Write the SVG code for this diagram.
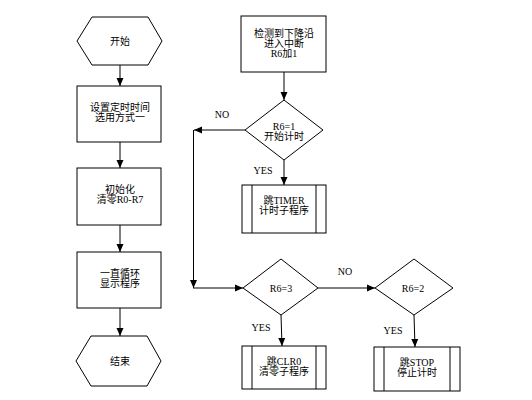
<svg xmlns="http://www.w3.org/2000/svg" width="532" height="400" viewBox="0 0 532 400">
<style>
.s{fill:#fff;stroke:#000;stroke-width:1}
.l{fill:none;stroke:#000;stroke-width:1}
text{font-family:"Liberation Serif","Noto Sans CJK SC",serif;font-size:10px;fill:#000;text-anchor:middle}
</style>
<defs>
<marker id="a" viewBox="0 0 8 8" refX="8" refY="4" markerWidth="8" markerHeight="8" markerUnits="userSpaceOnUse" orient="auto">
<path d="M0,0.5 L8,4 L0,7.5 Z" fill="#000"/>
</marker>
</defs>
<rect width="532" height="400" fill="#fff"/>
<g id="connectors">
<line class="l" x1="120" y1="65" x2="120" y2="86" marker-end="url(#a)"/>
<line class="l" x1="120" y1="142" x2="120" y2="168" marker-end="url(#a)"/>
<line class="l" x1="120" y1="225" x2="120" y2="252" marker-end="url(#a)"/>
<line class="l" x1="120" y1="308" x2="120" y2="336" marker-end="url(#a)"/>
<line class="l" x1="284" y1="72" x2="284" y2="100" marker-end="url(#a)"/>
<line class="l" x1="245" y1="130" x2="194" y2="130" marker-end="url(#a)"/>
<line class="l" x1="193.5" y1="130" x2="193.5" y2="288" marker-end="url(#a)"/>
<line class="l" x1="193" y1="288" x2="243" y2="288" marker-end="url(#a)"/>
<line class="l" x1="284" y1="160" x2="284" y2="185" marker-end="url(#a)"/>
<line class="l" x1="281" y1="315" x2="282" y2="346" marker-end="url(#a)"/>
<line class="l" x1="318" y1="288" x2="375" y2="288" marker-end="url(#a)"/>
<line class="l" x1="414" y1="315" x2="415" y2="347" marker-end="url(#a)"/>
<text x="222" y="118">NO</text>
<text x="263" y="174">YES</text>
<text x="345" y="275">NO</text>
<text x="261" y="331">YES</text>
<text x="393" y="334">YES</text>
</g>
<g id="start">
<polygon class="s" points="77,41 92,17 148,17 162,41 148,65 92,65"/>
<text x="120" y="45">开始</text>
</g>
<g id="setTimer">
<rect class="s" x="77" y="86" width="84" height="56"/>
<text x="120" y="111">设置定时时间</text>
<text x="120" y="121">选用方式一</text>
</g>
<g id="init">
<rect class="s" x="77" y="168" width="84" height="57"/>
<text x="120" y="193">初始化</text>
<text x="120" y="203">清零R0-R7</text>
</g>
<g id="loop">
<rect class="s" x="77" y="252" width="84" height="56"/>
<text x="120" y="277">一直循环</text>
<text x="120" y="287">显示程序</text>
</g>
<g id="end">
<polygon class="s" points="76,361 91,336 147,336 161,361 147,386 91,386"/>
<text x="120" y="365">结束</text>
</g>
<g id="interrupt">
<rect class="s" x="241" y="16" width="85" height="56"/>
<text x="284" y="37">检测到下降沿</text>
<text x="284" y="47">进入中断</text>
<text x="284" y="57">R6加1</text>
</g>
<g id="d1">
<polygon class="s" points="284,100 323,130 284,160 245,130"/>
<text x="284" y="130">R6=1</text>
<text x="284" y="140">开始计时</text>
</g>
<g id="timer">
<rect class="s" x="242" y="185" width="84" height="48"/>
<line class="l" x1="252" y1="185" x2="252" y2="233"/>
<line class="l" x1="316" y1="185" x2="316" y2="233"/>
<text x="284" y="204">跳TIMER</text>
<text x="284" y="214">计时子程序</text>
</g>
<g id="d2">
<polygon class="s" points="281,259 318,288 281,315 243,288"/>
<text x="281" y="292">R6=3</text>
</g>
<g id="clr">
<rect class="s" x="242" y="346" width="84" height="43"/>
<line class="l" x1="252" y1="346" x2="252" y2="389"/>
<line class="l" x1="316" y1="346" x2="316" y2="389"/>
<text x="284" y="365">跳CLR0</text>
<text x="284" y="375">清零子程序</text>
</g>
<g id="d3">
<polygon class="s" points="414,259 453,288 414,315 375,288"/>
<text x="413" y="292">R6=2</text>
</g>
<g id="stop">
<rect class="s" x="374" y="347" width="86" height="44"/>
<line class="l" x1="384" y1="347" x2="384" y2="391"/>
<line class="l" x1="450" y1="347" x2="450" y2="391"/>
<text x="417" y="366">跳STOP</text>
<text x="417" y="376">停止计时</text>
</g>
</svg>
